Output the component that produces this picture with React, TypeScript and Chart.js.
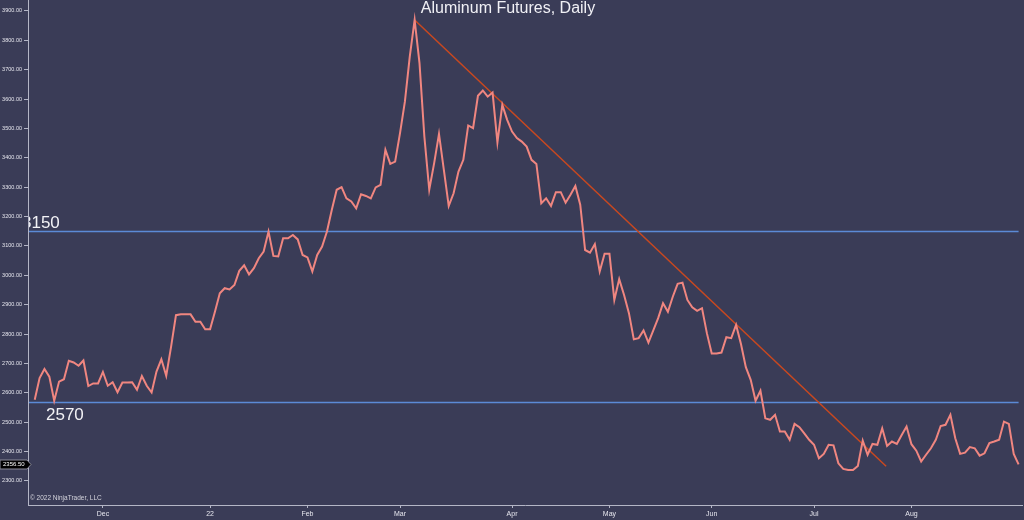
import React, { useEffect, useRef } from 'react';
import { Chart, registerables } from 'chart.js';

Chart.register(...registerables);

// Daily settlement prices (one per trading day, mid-Nov 2021 to end of Aug 2022)
const PRICES: number[] = [
  2576, 2650, 2681, 2655, 2573, 2638, 2646, 2709, 2703, 2692,
  2710, 2623, 2632, 2632, 2671, 2624, 2636, 2602, 2635, 2635,
  2636, 2610, 2657, 2624, 2601, 2672, 2714, 2658, 2757, 2864,
  2867, 2867, 2867, 2842, 2842, 2816, 2816, 2876, 2939, 2956,
  2952, 2967, 3015, 3034, 3003, 3024, 3058, 3081, 3149, 3066,
  3064, 3126, 3126,
  3137, 3122, 3069, 3061, 3013, 3069, 3098, 3149, 3223, 3291,
  3300, 3262, 3251, 3228, 3276, 3270, 3262, 3299, 3308, 3427,
  3379, 3387, 3484, 3591, 3744, 3869, 3722, 3472, 3291, 3381,
  3481, 3359, 3236, 3279, 3353, 3393, 3510, 3501, 3611, 3629,
  3608, 3622, 3452, 3580, 3529, 3489, 3467, 3455, 3438, 3393,
  3379, 3245,
  3262, 3236, 3283, 3283, 3247, 3274, 3304, 3240, 3086, 3077,
  3106, 3013, 3073, 3073, 2916, 2987, 2933, 2871, 2782, 2786,
  2812, 2771, 2812, 2854, 2905, 2876, 2927, 2971, 2975, 2916,
  2891, 2879, 2888, 2803, 2734, 2734, 2737, 2789, 2786, 2831,
  2766, 2687, 2644, 2573, 2607, 2513, 2508, 2525,
  2468, 2468, 2440, 2494, 2483, 2462, 2440, 2423, 2377, 2392,
  2423, 2421, 2360, 2341, 2337, 2337, 2351, 2437, 2389, 2426,
  2423, 2479, 2419, 2434, 2426, 2456, 2485, 2425, 2403, 2366,
  2389, 2411, 2440, 2487, 2491, 2525, 2445, 2392, 2396, 2415,
  2411, 2386, 2394, 2429, 2434, 2440, 2502, 2494, 2392, 2356.5,
];

// Index of the first trading day of each month, and its label
const MONTH_TICK_INDEX: number[] = [14, 36, 56, 75, 98, 118, 139, 160, 180];
const MONTH_LABELS: string[] = ['Dec', '22', 'Feb', 'Mar', 'Apr', 'May', 'Jun', 'Jul', 'Aug'];

const Y_TICKS: number[] = [2300, 2400, 2500, 2600, 2700, 2800, 2900, 3000, 3100, 3200, 3300, 3400, 3500, 3600, 3700, 3800, 3900];

// Horizontal support / resistance levels
const LEVELS: number[] = [3150, 2570];
const LEVEL_LABELS: string[] = ['3150', '2570'];

// Down trend line: from the March peak to late July
const TREND_INDEX: number[] = [78, 174.8];
const TREND_VALUE: number[] = [3869, 2350];

const LAST_PRICE = 2356.5;
const TITLE = 'Aluminum Futures, Daily';
const COPYRIGHT = '\u00A9 2022 NinjaTrader, LLC';

const BG = '#3a3c57';
const AXIS = '#b4b6c6';
const TEXT = '#e6e6ee';
const LINE = '#f08680';
const TREND = '#c9481f';
const LEVEL = '#5b8ad6';
const FONT = '"Liberation Sans", Arial, sans-serif';

export default function App() {
  const ref = useRef<HTMLCanvasElement | null>(null);

  useEffect(() => {
    document.body.style.margin = '0';
    document.body.style.background = BG;
    const canvas = ref.current;
    if (!canvas) return;

    const overlay = {
      id: 'overlay',
      beforeDraw(chart: any) {
        const { ctx, width, height } = chart;
        ctx.save();
        ctx.fillStyle = BG;
        ctx.fillRect(0, 0, width, height);
        ctx.restore();
      },
      beforeDatasetsDraw(chart: any) {
        const { ctx, chartArea, scales } = chart;
        const xs = scales.x;
        const ys = scales.y;
        const xEnd = xs.getPixelForValue(PRICES.length - 1);
        ctx.save();
        ctx.beginPath();
        ctx.rect(chartArea.left + 1, chartArea.top, chartArea.right - chartArea.left, chartArea.bottom - chartArea.top);
        ctx.clip();
        LEVELS.forEach((lv, i) => {
          const y = Math.round(ys.getPixelForValue(lv)) + 0.5;
          ctx.strokeStyle = LEVEL;
          ctx.lineWidth = 1.5;
          ctx.beginPath();
          ctx.moveTo(chartArea.left, y);
          ctx.lineTo(xEnd, y);
          ctx.stroke();
          ctx.fillStyle = '#f2f2f6';
          ctx.font = `17px ${FONT}`;
          ctx.textAlign = 'left';
          ctx.textBaseline = 'alphabetic';
          if (i === 0) {
            ctx.fillText(LEVEL_LABELS[i], chartArea.left - 6, y - 3.5);
          } else {
            ctx.fillText(LEVEL_LABELS[i], chartArea.left + 18, y + 17);
          }
        });
        ctx.restore();
      },
      afterDraw(chart: any) {
        const { ctx, chartArea, scales } = chart;
        const ys = scales.y;
        ctx.save();
        // title
        ctx.fillStyle = '#f0f0f5';
        ctx.font = `16px ${FONT}`;
        ctx.textAlign = 'center';
        ctx.textBaseline = 'middle';
        ctx.fillText(TITLE, 508, 8.5);
        // copyright
        ctx.fillStyle = '#d4d4dc';
        ctx.font = `6.5px ${FONT}`;
        ctx.textAlign = 'left';
        ctx.fillText(COPYRIGHT, chartArea.left + 2, chartArea.bottom - 7);
        // last price tag
        const py = Math.round(ys.getPixelForValue(LAST_PRICE)) + 0.5;
        const right = chartArea.left + 3;
        ctx.beginPath();
        ctx.moveTo(0, py - 4.5);
        ctx.lineTo(right - 4, py - 4.5);
        ctx.lineTo(right, py);
        ctx.lineTo(right - 4, py + 4.5);
        ctx.lineTo(0, py + 4.5);
        ctx.closePath();
        ctx.fillStyle = '#000000';
        ctx.fill();
        ctx.strokeStyle = '#8a8a98';
        ctx.lineWidth = 1;
        ctx.stroke();
        ctx.fillStyle = '#ffffff';
        ctx.font = `6px ${FONT}`;
        ctx.textAlign = 'left';
        ctx.textBaseline = 'middle';
        ctx.fillText(LAST_PRICE.toFixed(2), 3, py);
        ctx.restore();
      },
    };

    const chart = new Chart(canvas, {
      type: 'line',
      data: {
        datasets: [
          {
            label: 'Aluminum',
            data: PRICES.map((v, i) => ({ x: i, y: v })),
            borderColor: LINE,
            borderWidth: 2,
            pointRadius: 0,
            tension: 0,
            fill: false,
          },
          {
            label: 'Trend',
            data: TREND_INDEX.map((x, i) => ({ x, y: TREND_VALUE[i] })),
            borderColor: TREND,
            borderWidth: 1.5,
            pointRadius: 0,
            tension: 0,
            fill: false,
          },
        ],
      },
      options: {
        animation: false,
        responsive: true,
        maintainAspectRatio: false,
        layout: { padding: { left: 0, right: 2, top: 0, bottom: 0 } },
        plugins: {
          legend: { display: false },
          tooltip: { enabled: false },
          title: { display: false },
        },
        scales: {
          x: {
            type: 'linear',
            min: -1.38,
            max: 202.7,
            afterFit: (s: any) => { s.height = 15; s.paddingLeft = 0; s.paddingRight = 0; },
            afterBuildTicks: (s: any) => { s.ticks = MONTH_TICK_INDEX.map((v) => ({ value: v })); },
            grid: { drawOnChartArea: false, drawTicks: true, tickLength: 3, tickColor: AXIS },
            border: { color: AXIS, width: 1 },
            ticks: {
              autoSkip: false,
              maxRotation: 0,
              padding: 2,
              color: TEXT,
              font: { family: FONT, size: 7 },
              callback: (value: any) => {
                const k = MONTH_TICK_INDEX.indexOf(Number(value));
                return k >= 0 ? MONTH_LABELS[k] : '';
              },
            },
          },
          y: {
            type: 'linear',
            position: 'left',
            min: 2218,
            max: 3937,
            afterFit: (s: any) => { s.width = 28; s.paddingTop = 0; s.paddingBottom = 0; },
            afterBuildTicks: (s: any) => { s.ticks = Y_TICKS.map((v) => ({ value: v })); },
            grid: { drawOnChartArea: false, drawTicks: true, tickLength: 4, tickColor: AXIS },
            border: { color: AXIS, width: 1 },
            ticks: {
              padding: 2,
              color: TEXT,
              font: { family: FONT, size: 5.5 },
              callback: (value: any) => Number(value).toFixed(2),
            },
          },
        },
      },
      plugins: [overlay],
    });

    return () => chart.destroy();
  }, []);

  return (
    <div style={{ position: 'relative', width: 1024, height: 520, background: BG }}>
      <canvas ref={ref} />
    </div>
  );
}
